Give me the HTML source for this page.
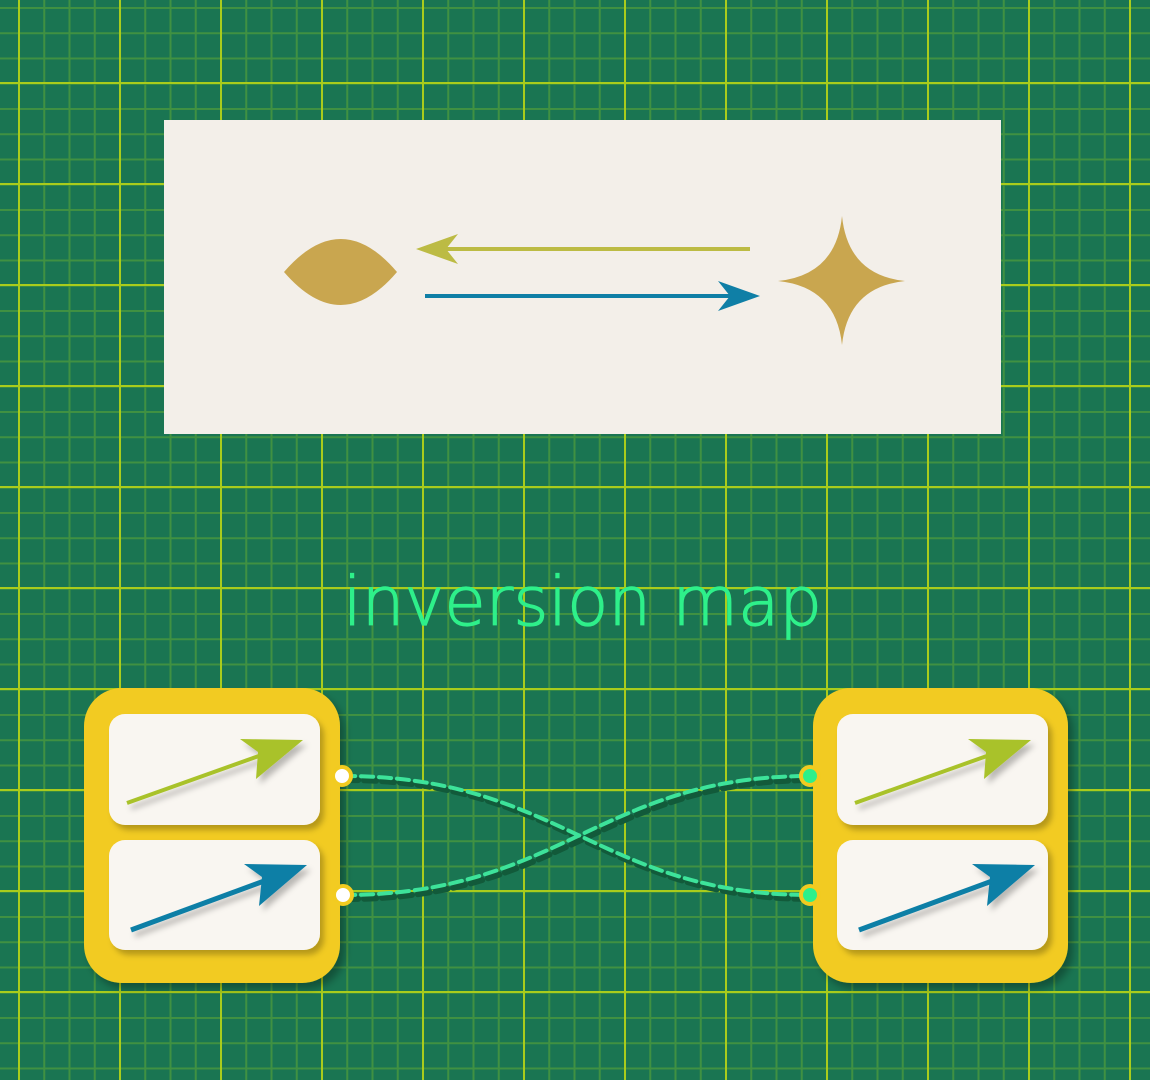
<!DOCTYPE html>
<html><head><meta charset="utf-8"><style>
html,body{margin:0;padding:0}
body{width:1150px;height:1080px;overflow:hidden;background:#1a7552;position:relative;font-family:"Liberation Sans",sans-serif}
</style></head><body>
<svg width="1150" height="1080" viewBox="0 0 1150 1080" style="position:absolute;left:0;top:0">
<defs>
<pattern id="minor" x="18" y="7" width="25.25" height="25.25" patternUnits="userSpaceOnUse">
<path d="M1 0V25.25M0 1H25.25" stroke="#4c9a3c" stroke-width="2" fill="none" opacity="0.75"/></pattern>
<pattern id="major" x="18" y="82" width="101" height="101" patternUnits="userSpaceOnUse">
<path d="M1 0V101M0 1H101" stroke="#a9cc1c" stroke-width="2" fill="none"/></pattern>
<filter id="sh" x="-20%" y="-20%" width="150%" height="150%"><feDropShadow dx="5" dy="6" stdDeviation="4" flood-color="#000" flood-opacity="0.3"/></filter>
<filter id="sh2" x="-20%" y="-20%" width="150%" height="150%"><feDropShadow dx="4" dy="5" stdDeviation="3" flood-color="#000" flood-opacity="0.25"/></filter>
</defs>
<rect width="1150" height="1080" fill="url(#minor)"/>
<rect width="1150" height="1080" fill="url(#major)"/>

<rect x="164" y="120" width="837" height="314" fill="#f3efe9"/>
<path d="M284 272 Q341 206 397 272 Q341 338 284 272Z" fill="#c9a64f"/>
<g>
<line x1="750" y1="249" x2="440" y2="249" stroke="#bcbb44" stroke-width="4"/>
<path d="M416 249 L458 234 L446 249 L458 264Z" fill="#bcbb44"/></g>
<g>
<line x1="425" y1="296" x2="735" y2="296" stroke="#0f7fa6" stroke-width="4"/>
<path d="M760 296 L718 281 L730 296 L718 311Z" fill="#0f7fa6"/></g>
<path d="M842 216 Q848 275 905 281 Q848 287 842 345 Q836 287 778 281 Q836 275 842 216Z" fill="#c9a64f"/>

<text x="343" y="625" textLength="479" lengthAdjust="spacingAndGlyphs" font-family="DejaVu Sans, Liberation Sans, sans-serif" font-weight="200" font-size="68" fill="#2ef08a" stroke="#2ef08a" stroke-width="1.2">inversion map</text>

<g fill="none" stroke-dasharray="12 6" stroke-linecap="round">
<path d="M343 776 C560 776 600 895 810 895" stroke="#125a3a" stroke-width="6" transform="translate(3,4)"/>
<path d="M343 895 C560 895 600 776 810 776" stroke="#125a3a" stroke-width="6" transform="translate(3,4)"/>
<path d="M343 776 C560 776 600 895 810 895" stroke="#3de39a" stroke-width="4"/>
<path d="M343 895 C560 895 600 776 810 776" stroke="#3de39a" stroke-width="4"/>
</g>

<g>
<rect x="84" y="688" width="256" height="295" rx="38" fill="#f2cb20" filter="url(#sh)"/>
<rect x="109" y="714" width="211" height="111" rx="16" fill="#f9f6f1" filter="url(#sh2)"/>
<rect x="109" y="840" width="211" height="110" rx="16" fill="#f9f6f1" filter="url(#sh2)"/>
<g filter="url(#sh2)"><line x1="127" y1="803" x2="270" y2="752" stroke="#a9c22a" stroke-width="4"/><path d="M303 740 L240 739 L258 752 L256 779Z" fill="#a9c22a"/></g>
<g filter="url(#sh2)"><line x1="131" y1="930" x2="275" y2="877" stroke="#0f7fa6" stroke-width="5"/><path d="M307 865 L244 864 L262 877 L259 906Z" fill="#0f7fa6"/></g>
<circle cx="342" cy="776" r="9" fill="#fff" stroke="#f2cb20" stroke-width="4"/>
<circle cx="343" cy="895" r="9" fill="#fff" stroke="#f2cb20" stroke-width="4"/>
</g>

<g>
<rect x="813" y="688" width="255" height="295" rx="38" fill="#f2cb20" filter="url(#sh)"/>
<rect x="837" y="714" width="211" height="111" rx="16" fill="#f9f6f1" filter="url(#sh2)"/>
<rect x="837" y="840" width="211" height="110" rx="16" fill="#f9f6f1" filter="url(#sh2)"/>
<g filter="url(#sh2)"><line x1="855" y1="803" x2="998" y2="752" stroke="#a9c22a" stroke-width="4"/><path d="M1031 740 L968 739 L986 752 L984 779Z" fill="#a9c22a"/></g>
<g filter="url(#sh2)"><line x1="859" y1="930" x2="1003" y2="877" stroke="#0f7fa6" stroke-width="5"/><path d="M1035 865 L972 864 L990 877 L987 906Z" fill="#0f7fa6"/></g>
<circle cx="810" cy="776" r="9" fill="#2ef08a" stroke="#f2cb20" stroke-width="4"/>
<circle cx="810" cy="895" r="9" fill="#2ef08a" stroke="#f2cb20" stroke-width="4"/>
</g>
</svg>
</body></html>
